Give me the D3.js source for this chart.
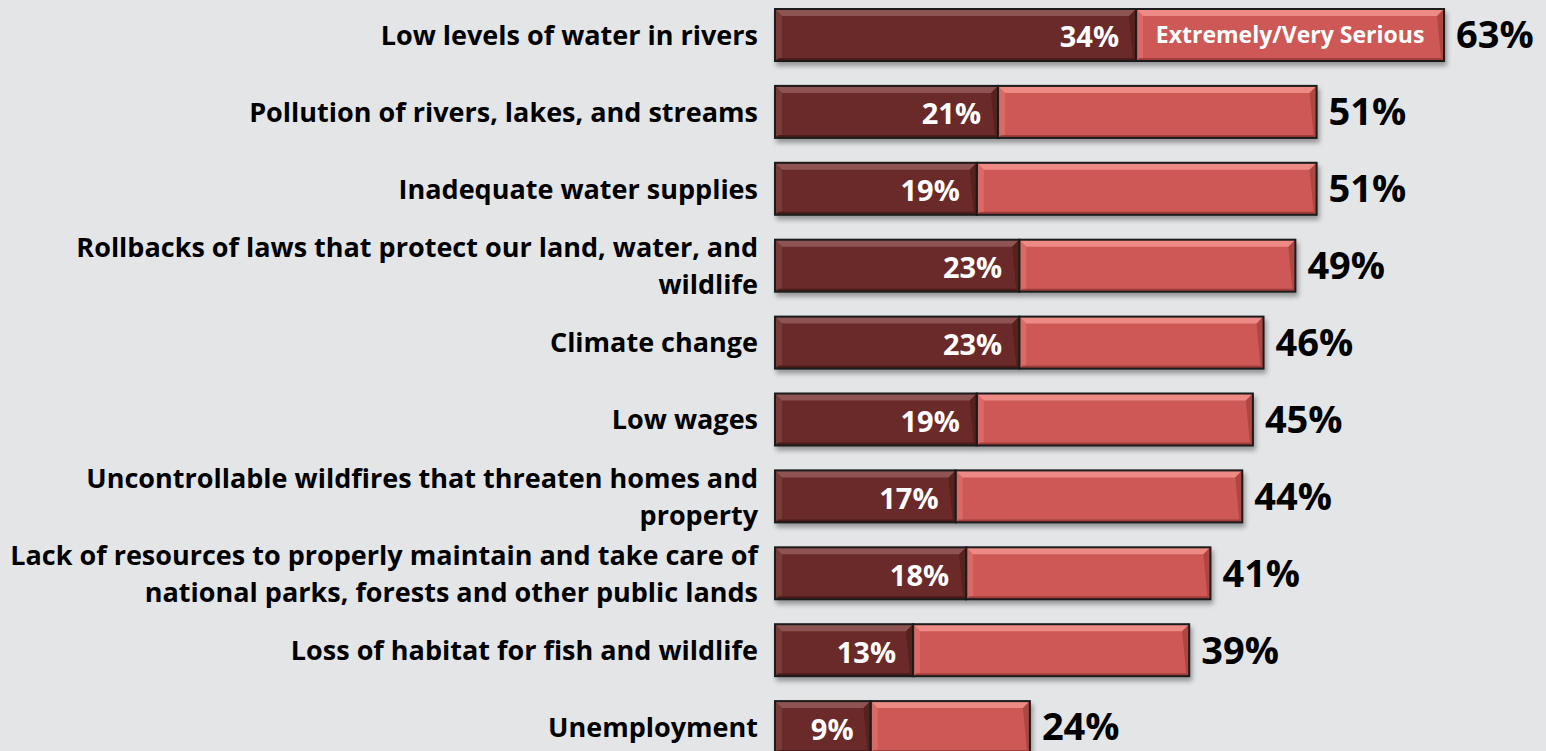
<!DOCTYPE html>
<html>
<head>
<meta charset="utf-8">
<script src="https://cdn.jsdelivr.net/npm/d3@7"></script>
<style>
  html, body { margin: 0; padding: 0; background: #e4e5e7; overflow: hidden; }
  text { font-family: "Open Sans", "DejaVu Sans", sans-serif; font-weight: 700; }
</style>
</head>
<body>
<script>
// categories, one entry per bar (label lines split where the chart wraps them)
var categories = [
  ["Low levels of water in rivers"],
  ["Pollution of rivers, lakes, and streams"],
  ["Inadequate water supplies"],
  ["Rollbacks of laws that protect our land, water, and", "wildlife"],
  ["Climate change"],
  ["Low wages"],
  ["Uncontrollable wildfires that threaten homes and", "property"],
  ["Lack of resources to properly maintain and take care of", "national parks, forests and other public lands"],
  ["Loss of habitat for fish and wildlife"],
  ["Unemployment"]
];
// extremely serious share
var extremely = [34, 21, 19, 23, 23, 19, 17, 18, 13, 9];
// extremely + very serious total
var total = [63, 51, 51, 49, 46, 45, 44, 41, 39, 24];
var legendLabel = "Extremely/Very Serious";

var W = 1546, H = 751;

var svg = d3.select("body").append("svg")
    .attr("width", W)
    .attr("height", H);

var defs = svg.append("defs");
var shadow = defs.append("filter").attr("id", "shadow")
    .attr("x", "-5%").attr("y", "-30%").attr("width", "115%").attr("height", "180%");
shadow.append("feGaussianBlur").attr("in", "SourceAlpha").attr("stdDeviation", 2.5);
shadow.append("feOffset").attr("dx", 2).attr("dy", 4).attr("result", "off");
shadow.append("feComponentTransfer").append("feFuncA").attr("type", "linear").attr("slope", 0.35);
var merge = shadow.append("feMerge");
merge.append("feMergeNode");
merge.append("feMergeNode").attr("in", "SourceGraphic");

var idx = d3.range(categories.length);

var x = d3.scaleLinear().domain([0, 100]).range([775, 775 + 1062]);
var y = d3.scaleBand().domain(idx)
    .range([9, 9 + 9 * 76.9 + 52])
    .paddingInner(0.324).paddingOuter(0);

var bw = y.bandwidth();
var bev = 7;

// draw one bevelled segment
function segment(g, x0, x1, y0, h, base, light, dark) {
  var w = x1 - x0;
  g.append("rect").attr("x", x0).attr("y", y0).attr("width", w).attr("height", h).attr("fill", base);
  // top bevel
  g.append("polygon")
      .attr("points", [[x0, y0], [x1, y0], [x1 - bev, y0 + bev], [x0 + bev, y0 + bev]].join(" "))
      .attr("fill", light);
  // left bevel
  g.append("polygon")
      .attr("points", [[x0, y0], [x0 + bev, y0 + bev], [x0 + bev, y0 + h - 3], [x0, y0 + h]].join(" "))
      .attr("fill", light).attr("opacity", 0.4);
  // right bevel
  g.append("polygon")
      .attr("points", [[x1, y0], [x1, y0 + h], [x1 - 3, y0 + h - 3], [x1 - bev, y0 + bev]].join(" "))
      .attr("fill", dark).attr("opacity", 0.5);
  // bottom bevel
  g.append("polygon")
      .attr("points", [[x0, y0 + h], [x1, y0 + h], [x1 - 3, y0 + h - 3], [x0 + 3, y0 + h - 3]].join(" "))
      .attr("fill", dark).attr("opacity", 0.7);
  g.append("rect").attr("x", x0).attr("y", y0).attr("width", w).attr("height", h)
      .attr("fill", "none").attr("stroke", "#1a1a1a").attr("stroke-width", 2);
}

var rows = svg.selectAll("g.row")
    .data(idx)
  .enter().append("g")
    .attr("class", "row");

rows.each(function(i) {
  var g = d3.select(this);
  var y0 = y(i);
  var bars = g.append("g").attr("filter", "url(#shadow)");
  segment(bars, x(extremely[i]), x(total[i]), y0, bw, "#cd5854", "#ee8a86", "#8f3330");
  segment(bars, x(0), x(extremely[i]), y0, bw, "#6a2a29", "#8e5352", "#3e1514");

  // inner value label
  g.append("text")
      .attr("x", x(extremely[i]) - 17)
      .attr("y", y0 + bw / 2 + 2)
      .attr("dy", "0.36em")
      .attr("text-anchor", "end")
      .attr("fill", "#ffffff")
      .attr("font-size", 29)
      .text(extremely[i] + "%");

  // total label
  g.append("text")
      .attr("x", x(total[i]) + 12)
      .attr("y", y0 + bw / 2)
      .attr("dy", "0.35em")
      .attr("fill", "#000000")
      .attr("font-size", 38)
      .text(total[i] + "%");

  // category label
  var lines = categories[i];
  var lh = 37;
  var t = g.append("text")
      .attr("text-anchor", "end")
      .attr("fill", "#000000")
      .attr("font-size", 27);
  lines.forEach(function(line, k) {
    t.append("tspan")
        .attr("x", 758)
        .attr("y", y0 + bw / 2 + (k - (lines.length - 1) / 2) * lh)
        .attr("dy", "0.36em")
        .text(line);
  });
});

// legend text inside the first light segment
svg.append("text")
    .attr("x", (x(extremely[0]) + x(total[0])) / 2)
    .attr("y", y(0) + bw / 2)
    .attr("dy", "0.36em")
    .attr("text-anchor", "middle")
    .attr("fill", "#ffffff")
    .attr("font-size", 23)
    .text(legendLabel);
</script>
</body>
</html>
